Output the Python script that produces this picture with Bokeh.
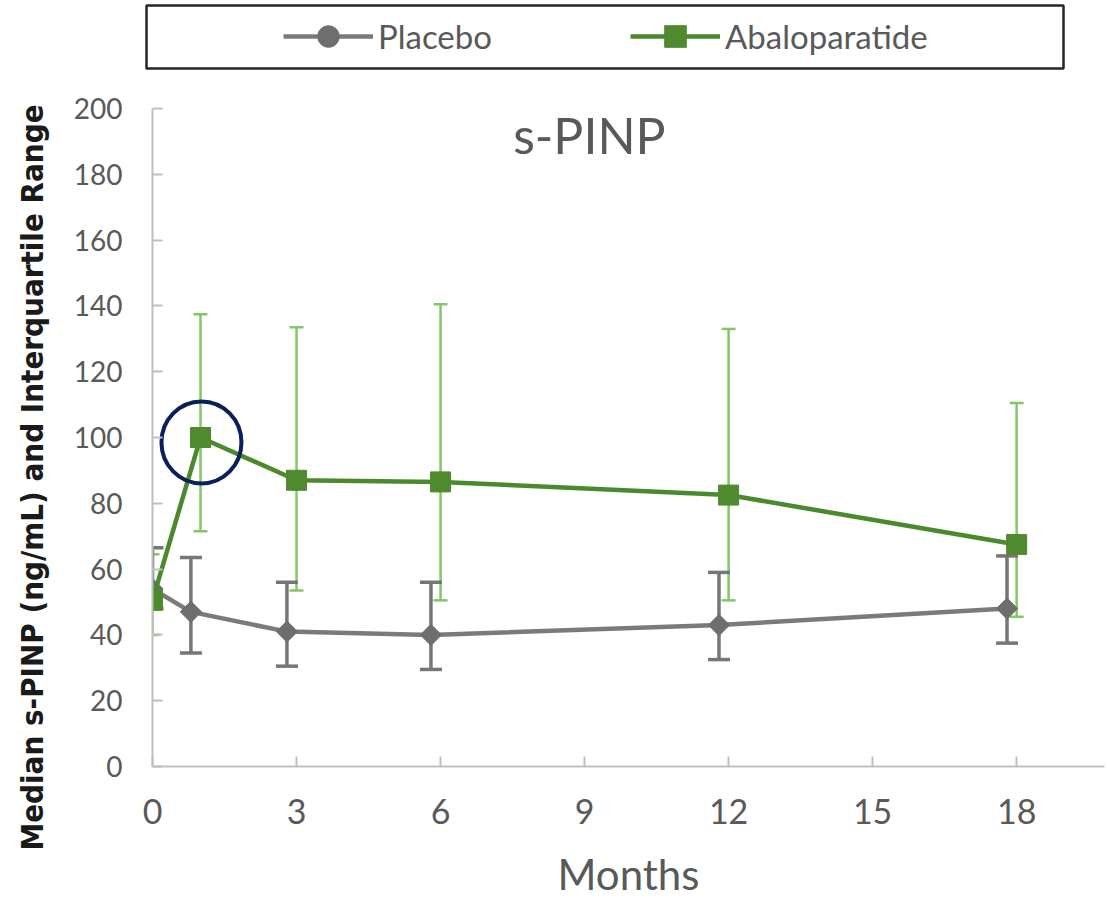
from bokeh.plotting import figure
from bokeh.layouts import column, row
from bokeh.models import (Range1d, FixedTicker, Whisker, TeeHead, ColumnDataSource,
                          Legend, LegendItem, Label)
from bokeh.embed import file_html
from bokeh.resources import INLINE
import numpy as np

# ---- data ----
abalo_months = [0, 1, 3, 6, 12, 18]
abalo_median = [50.5, 100.0, 87.0, 86.5, 82.5, 67.5]
abalo_q3 = [64.5, 137.5, 133.5, 140.5, 133.0, 110.5]
abalo_q1 = [40.0, 71.5, 53.5, 50.5, 50.5, 45.5]

placebo_months = [0, 0.8, 2.8, 5.8, 11.8, 17.8]
placebo_median = [54.0, 47.0, 41.0, 40.0, 43.0, 48.0]
placebo_q3 = [66.5, 63.5, 56.0, 56.0, 59.0, 64.0]
placebo_q1 = [48.0, 34.5, 30.5, 29.5, 32.5, 37.5]

x_ticks = [0, 3, 6, 9, 12, 15, 18]
y_ticks = [0, 20, 40, 60, 80, 100, 120, 140, 160, 180, 200]

series_names = ["Placebo", "Abaloparatide"]
chart_title = "s-PINP"
x_title = "Months"
y_title = "Median s-PINP (ng/mL) and Interquartile Range"

# annotation (highlight circle around month-1 value)
highlight_x = 1.02
highlight_y = 98.5

# ---- styles ----
GRAY_LINE = "#7A7A7A"
GRAY_MARK = "#6E6E6E"
GRAY_ERR = "#767676"
GREEN_LINE = "#4B8A2C"
GREEN_MARK = "#4F8A2F"
GREEN_ERR = "#84C666"
AXIS_GRAY = "#BFBFBF"
TEXT_GRAY = "#595959"

W = 1106
LEG_H = 70
MAIN_H = 831
YLAB_W = 50

# ---------------- main chart ----------------
p = figure(width=W - YLAB_W, height=MAIN_H, output_backend="svg", toolbar_location=None,
           x_range=Range1d(0, 19.83), y_range=Range1d(0, 200),
           min_border_left=152 - YLAB_W, min_border_right=2,
           min_border_top=108 - LEG_H, min_border_bottom=MAIN_H - (768 - LEG_H))
p.frame_align = False
p.outline_line_color = None
p.grid.visible = False
p.background_fill_color = "white"

for ax in (p.xaxis[0], p.yaxis[0]):
    ax.axis_line_color = AXIS_GRAY
    ax.axis_line_width = 2
    ax.major_tick_line_color = AXIS_GRAY
    ax.major_tick_line_width = 2
    ax.major_tick_in = 10
    ax.major_tick_out = 0
    ax.minor_tick_line_color = None
    ax.major_label_text_color = TEXT_GRAY
    ax.major_label_text_font = "Lato"

p.xaxis.ticker = FixedTicker(ticks=x_ticks)
p.yaxis.ticker = FixedTicker(ticks=y_ticks)
p.xaxis.major_label_text_font_size = "34px"
p.yaxis.major_label_text_font_size = "28px"
p.xaxis.major_label_standoff = 32
p.yaxis.major_label_standoff = 30

p.xaxis.axis_label = x_title
p.xaxis.axis_label_text_font = "Lato"
p.xaxis.axis_label_text_font_size = "42px"
p.xaxis.axis_label_text_font_style = "normal"
p.xaxis.axis_label_text_color = TEXT_GRAY
p.xaxis.axis_label_standoff = 22

# ---- error bars ----
src_g = ColumnDataSource(dict(x=abalo_months, upper=abalo_q3, lower=abalo_q1))
src_p = ColumnDataSource(dict(x=placebo_months, upper=placebo_q3, lower=placebo_q1))

w_g = Whisker(source=src_g, base="x", upper="upper", lower="lower", dimension="height",
              line_color=GREEN_ERR, line_width=2.5, level="underlay",
              upper_head=TeeHead(size=14, line_color=GREEN_ERR, line_width=2.5),
              lower_head=TeeHead(size=14, line_color=GREEN_ERR, line_width=2.5))
w_p = Whisker(source=src_p, base="x", upper="upper", lower="lower", dimension="height",
              line_color=GRAY_ERR, line_width=3.5, level="underlay",
              upper_head=TeeHead(size=22, line_color=GRAY_ERR, line_width=3.5),
              lower_head=TeeHead(size=22, line_color=GRAY_ERR, line_width=3.5))
p.add_layout(w_g)
p.add_layout(w_p)

# ---- series ----
p.line(placebo_months, placebo_median, line_color=GRAY_LINE, line_width=4.5)
p.scatter(placebo_months, placebo_median, marker="square", angle=np.pi / 4,
          size=15, fill_color=GRAY_MARK, line_color=GRAY_MARK)
p.line(abalo_months, abalo_median, line_color=GREEN_LINE, line_width=4.5)
p.scatter(abalo_months, abalo_median, marker="square", size=20,
          fill_color=GREEN_MARK, line_color=GREEN_MARK)

# highlight circle
p.ellipse(x=[highlight_x], y=[highlight_y], width=80, height=82,
          width_units="screen", height_units="screen",
          fill_color=None, line_color="#0B1F5A", line_width=4)

# title
p.add_layout(Label(x=9.1, y=192.0, text=chart_title, text_align="center",
                   text_baseline="middle", text_font="Lato", text_font_size="50px",
                   text_color=TEXT_GRAY))

# ---------------- y-axis title strip ----------------
ylf = figure(width=YLAB_W, height=MAIN_H, output_backend="svg", toolbar_location=None,
             x_axis_location=None, y_axis_location=None,
             x_range=Range1d(0, 1), y_range=Range1d(0, 1),
             min_border_left=0, min_border_right=0, min_border_top=0, min_border_bottom=0)
ylf.frame_align = False
ylf.grid.visible = False
ylf.outline_line_color = None
ylf.add_layout(Label(x=0.62, y=1 - (477 - LEG_H) / MAIN_H, text=y_title, angle=np.pi / 2,
                     text_align="center", text_baseline="middle",
                     text_font="DejaVu Sans Condensed", text_font_style="bold",
                     text_font_size="31px", text_color="#1A1A1A"))

# ---------------- legend strip (boxed) ----------------
lf = figure(width=W, height=LEG_H, output_backend="svg", toolbar_location=None,
            x_axis_location=None, y_axis_location=None,
            x_range=Range1d(0, 1), y_range=Range1d(0, 1),
            min_border_left=146, min_border_right=W - 146 - 917,
            min_border_top=5, min_border_bottom=LEG_H - 68)
lf.frame_align = False
lf.grid.visible = False
lf.outline_line_color = "#262626"
lf.outline_line_width = 2.5
lf.background_fill_color = "white"

# legend proxies: same series, drawn out of this strip's view (y range 0..1)
lg_pl_line = lf.line(placebo_months, placebo_median, line_color=GRAY_LINE, line_width=4.5)
lg_pl_mark = lf.scatter(placebo_months, placebo_median, marker="circle", size=16,
                        fill_color=GRAY_MARK, line_color=GRAY_MARK)
lg_ab_line = lf.line(abalo_months, abalo_median, line_color=GREEN_LINE, line_width=4.5)
lg_ab_mark = lf.scatter(abalo_months, abalo_median, marker="square", size=20,
                        fill_color=GREEN_MARK, line_color=GREEN_MARK)

legend = Legend(items=[LegendItem(label=series_names[0], renderers=[lg_pl_line, lg_pl_mark]),
                       LegendItem(label=series_names[1], renderers=[lg_ab_line, lg_ab_mark])],
                location=(137, 5), orientation="horizontal",
                padding=0, margin=0, spacing=0,
                glyph_width=90, glyph_height=54, label_width=252, label_height=54,
                label_standoff=5, border_line_color=None,
                background_fill_alpha=0,
                label_text_font="Lato", label_text_font_size="33px",
                label_text_color=TEXT_GRAY)
lf.add_layout(legend)

layout = column(lf, row(ylf, p, spacing=0), spacing=0)
open("out.html", "w").write(file_html(layout, INLINE))
